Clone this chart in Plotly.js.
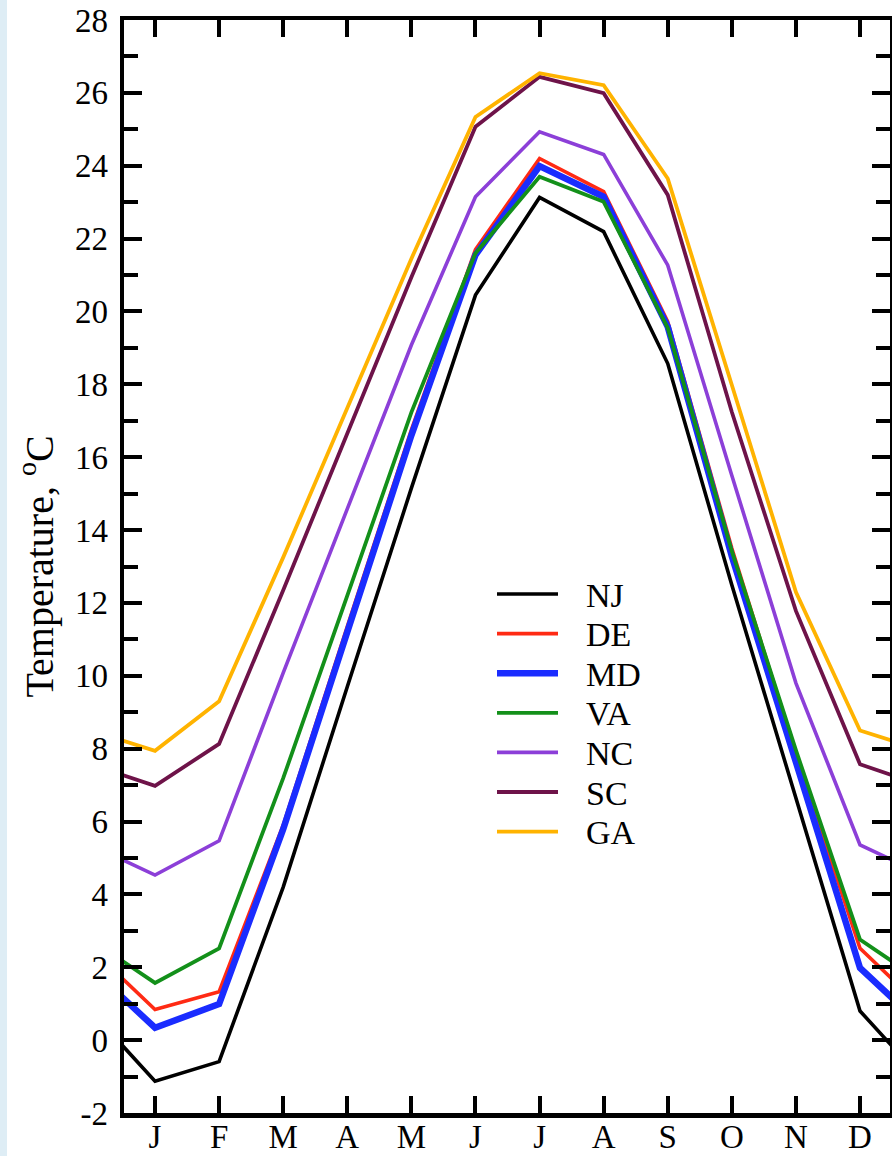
<!DOCTYPE html>
<html><head><meta charset="utf-8">
<script src="https://cdn.plot.ly/plotly-3.0.1.min.js"></script>
<style>
html,body{margin:0;padding:0;}
body{background:linear-gradient(to right,#deedf5 0,#deedf5 7px,#ffffff 7px);}
#chart{width:892px;height:1156px;}
</style></head><body><div id="chart"></div>
<script>
const months = ['J','F','M','A','M','J','J','A','S','O','N','D'];
const yTickVals = [-2,0,2,4,6,8,10,12,14,16,18,20,22,24,26,28];
const yTickText = ['-2','0','2','4','6','8','10','12','14','16','18','20','22','24','26','28'];
const NJ = [-1.13, -0.59, 4.2, 9.7, 15.15, 20.45, 23.13, 22.19, 18.57, 12.49, 6.63, 0.8];
const DE = [0.84, 1.33, 5.9, 11.35, 16.75, 21.7, 24.2, 23.29, 19.72, 13.5, 7.85, 2.52];
const MD = [0.34, 0.99, 5.79, 11.2, 16.6, 21.55, 23.99, 23.15, 19.58, 13.28, 7.59, 1.98];
const VA = [1.57, 2.52, 7.19, 12.2, 17.23, 21.6, 23.7, 23.01, 19.55, 13.42, 7.96, 2.76];
const NC = [4.53, 5.47, 10.08, 14.58, 19.08, 23.15, 24.93, 24.31, 21.27, 15.5, 9.8, 5.36];
const SC = [6.98, 8.13, 12.35, 16.65, 20.94, 25.07, 26.44, 25.99, 23.2, 17.24, 11.78, 7.57];
const GA = [7.94, 9.3, 13.25, 17.35, 21.45, 25.34, 26.54, 26.21, 23.65, 17.98, 12.3, 8.5];
const stateNames = ['NJ','DE','MD','VA','NC','SC','GA'];
const stateSeries = [NJ, DE, MD, VA, NC, SC, GA];
const stateColors = ['#000000','#ff2a14','#1a2cff','#13901a','#8c3fd8','#6e1349','#ffb300'];
const stateWidths = [3.6, 3.6, 6.5, 3.8, 3.6, 3.8, 3.8];

// month positions 1..12, with the annual cycle wrapped (Dec before Jan, Jan after Dec)
const monthPos = months.map((m,i)=>i+1);
const xs = [0].concat(monthPos, [13]);
const traces = stateSeries.map((s,i)=>({
  x: xs,
  y: [s[11]].concat(s, [s[0]]),
  type:'scatter', mode:'lines', name: stateNames[i], showlegend:false,
  line:{color:stateColors[i], width:stateWidths[i]}
}));

const F = 'Liberation Serif, Times New Roman, serif';

// legend drawn as shapes + text in paper coordinates
const plotL = 124, plotW = 766, plotB = 1113, plotH = 1093;
const px = v => (v - plotL) / plotW;
const py = v => (plotB - v) / plotH;
const shapes = [], annotations = [];
stateNames.forEach((n,i)=>{
  const yc = 594 + 39.6*i;
  shapes.push({type:'line', xref:'paper', yref:'paper', x0:px(497), x1:px(558), y0:py(yc), y1:py(yc),
               line:{color:stateColors[i], width:stateWidths[i]}});
  annotations.push({xref:'paper', yref:'paper', x:px(584), y:py(yc+1), xanchor:'left', yanchor:'middle',
               text:n, showarrow:false, font:{family:F, size:34, color:'#000'}});
});

const layout = {
  width:892, height:1156,
  margin:{l:124, r:2, t:20, b:43},
  paper_bgcolor:'rgba(0,0,0,0)', plot_bgcolor:'#ffffff',
  font:{family:F, color:'#000', size:33},
  showlegend:false,
  shapes:shapes, annotations:annotations,
  xaxis:{range:[0.516,12.468], tickvals:monthPos, ticktext:months,
         ticks:'inside', ticklen:17, tickwidth:4, tickcolor:'#000',
         showline:true, linewidth:4.5, linecolor:'#000', mirror:'allticks',
         showgrid:false, zeroline:false, ticklabelstandoff:-9,
         tickfont:{family:F, size:33, color:'#000'}},
  yaxis:{range:[-2,28], tickvals:yTickVals, ticktext:yTickText,
         ticks:'inside', ticklen:18, tickwidth:4, tickcolor:'#000',
         minor:{dtick:1, ticks:'inside', ticklen:14, tickwidth:4, tickcolor:'#000'},
         showline:true, linewidth:4.5, linecolor:'#000', mirror:'allticks',
         showgrid:false, zeroline:false, ticklabelstandoff:5,
         tickfont:{family:F, size:33, color:'#000'},
         title:{text:'Temperature, <sup>o</sup>C', font:{family:F, size:40, color:'#000'}, standoff:10}}
};
Plotly.newPlot('chart', traces, layout, {staticPlot:true});
</script></body></html>
